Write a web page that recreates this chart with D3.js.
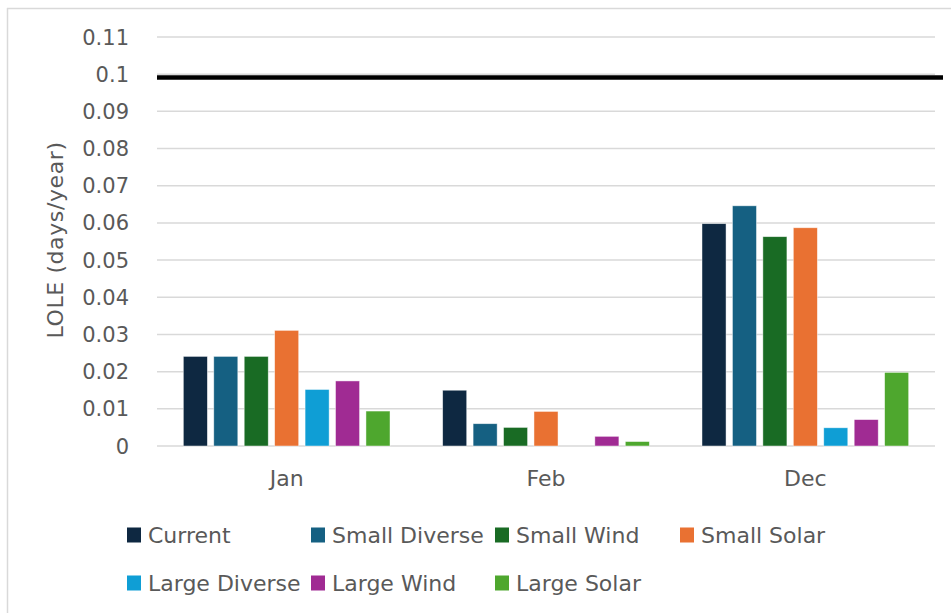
<!DOCTYPE html>
<html>
<head>
  <title>LOLE by month</title>
  <style>
    body { margin: 0; background: #fff; }
    svg text { font-family: 'DejaVu Sans', sans-serif; fill: #595959; }
  </style>
</head>
<body>
  <div id="chart"></div>
  <script src="https://d3js.org/d3.v7.min.js"></script>
  <script>
    const months = ['Jan', 'Feb', 'Dec'];
    const series = ['Current', 'Small Diverse', 'Small Wind', 'Small Solar', 'Large Diverse', 'Large Wind', 'Large Solar'];
    const seriesColors = ['#0e2841', '#156082', '#196b24', '#e97132', '#0f9ed5', '#a02b93', '#4ea72e'];
    const current = [0.0241, 0.015, 0.0598];
    const smallDiverse = [0.0241, 0.006, 0.0646];
    const smallWind = [0.0241, 0.005, 0.0563];
    const smallSolar = [0.0311, 0.0093, 0.0587];
    const largeDiverse = [0.0152, 0, 0.0049];
    const largeWind = [0.0175, 0.0026, 0.0071];
    const largeSolar = [0.0094, 0.0012, 0.0198];
    const yTicks = [0, 0.01, 0.02, 0.03, 0.04, 0.05, 0.06, 0.07, 0.08, 0.09, 0.1, 0.11];
    const yTickLabels = ['0', '0.01', '0.02', '0.03', '0.04', '0.05', '0.06', '0.07', '0.08', '0.09', '0.1', '0.11'];
    const threshold = 0.0991;

    const values = [current, smallDiverse, smallWind, smallSolar, largeDiverse, largeWind, largeSolar];

    const width = 951;
    const height = 613;
    const margin = { top: 37, right: 16, bottom: 167, left: 157 };
    const innerWidth = width - margin.left - margin.right;
    const innerHeight = height - margin.top - margin.bottom;

    const svg = d3.select('#chart')
      .append('svg')
      .attr('width', width)
      .attr('height', height);

    // chart frame (only left and top edges show in the original)
    svg.append('line')
      .attr('x1', 7.5).attr('x2', 7.5).attr('y1', 8).attr('y2', height)
      .attr('stroke', '#d9d9d9').attr('stroke-width', 1.5);
    svg.append('line')
      .attr('x1', 7).attr('x2', width).attr('y1', 8.5).attr('y2', 8.5)
      .attr('stroke', '#d9d9d9').attr('stroke-width', 1.5);

    const g = svg.append('g')
      .attr('transform', `translate(${margin.left},${margin.top})`);

    const yScale = d3.scaleLinear().domain([0, 0.11]).range([innerHeight, 0]);
    const x0 = d3.scaleBand().domain(months).range([0, innerWidth]).padding(0);
    const x1 = d3.scaleBand().domain(series).range([0, x0.bandwidth()])
      .paddingInner(0.21).paddingOuter(0.865);

    // gridlines
    g.selectAll('.grid')
      .data(yTicks)
      .enter()
      .append('line')
      .attr('class', 'grid')
      .attr('x1', 0)
      .attr('x2', innerWidth)
      .attr('y1', d => yScale(d))
      .attr('y2', d => yScale(d))
      .attr('stroke', '#d9d9d9')
      .attr('stroke-width', 1.5);

    // y tick labels
    g.selectAll('.y-label')
      .data(yTicks)
      .enter()
      .append('text')
      .attr('class', 'y-label')
      .attr('x', -28)
      .attr('y', d => yScale(d))
      .attr('dy', '0.36em')
      .attr('text-anchor', 'end')
      .style('font-size', '21px')
      .text((d, i) => yTickLabels[i]);

    // x labels
    g.selectAll('.x-label')
      .data(months)
      .enter()
      .append('text')
      .attr('class', 'x-label')
      .attr('x', d => x0(d) + x0.bandwidth() / 2)
      .attr('y', innerHeight + 40)
      .attr('text-anchor', 'middle')
      .style('font-size', '22px')
      .text(d => d);

    // bars
    const monthGroups = g.selectAll('.month')
      .data(months)
      .enter()
      .append('g')
      .attr('class', 'month')
      .attr('transform', d => `translate(${x0(d)},0)`);

    monthGroups.selectAll('rect')
      .data((m, mi) => series.map((s, si) => ({ s, si, v: values[si][mi] })))
      .enter()
      .filter(d => d.v > 0)
      .append('rect')
      .attr('x', d => x1(d.s))
      .attr('width', x1.bandwidth())
      .attr('y', d => yScale(d.v))
      .attr('height', d => yScale(0) - yScale(d.v))
      .attr('fill', d => seriesColors[d.si])
      .attr('stroke', '#ffffff')
      .attr('stroke-opacity', 0.6)
      .attr('stroke-width', 0.75);

    // threshold line
    g.append('line')
      .attr('x1', 0)
      .attr('x2', innerWidth + 8)
      .attr('y1', yScale(threshold))
      .attr('y2', yScale(threshold))
      .attr('stroke', '#000')
      .attr('stroke-width', 4.5);

    // y axis title
    svg.append('text')
      .attr('transform', 'translate(63,240) rotate(-90)')
      .attr('text-anchor', 'middle')
      .style('font-size', '22px')
      .style('letter-spacing', '0.6px')
      .text('LOLE (days/year)');

    // legend
    const legendCols = [127, 311, 495, 680];
    const legendRows = [535, 583];
    const legend = svg.append('g').attr('class', 'legend');
    const items = legend.selectAll('.legend-item')
      .data(series)
      .enter()
      .append('g')
      .attr('class', 'legend-item')
      .attr('transform', (d, i) => {
        const row = Math.floor(i / 4);
        const col = i % 4;
        return `translate(${legendCols[col]},${legendRows[row]})`;
      });

    items.append('rect')
      .attr('x', 0)
      .attr('y', -7.5)
      .attr('width', 14)
      .attr('height', 15)
      .attr('fill', (d, i) => seriesColors[i]);

    items.append('text')
      .attr('x', 21)
      .attr('y', 0)
      .attr('dy', '0.36em')
      .style('font-size', '22px')
      .text(d => d);
  </script>
</body>
</html>
